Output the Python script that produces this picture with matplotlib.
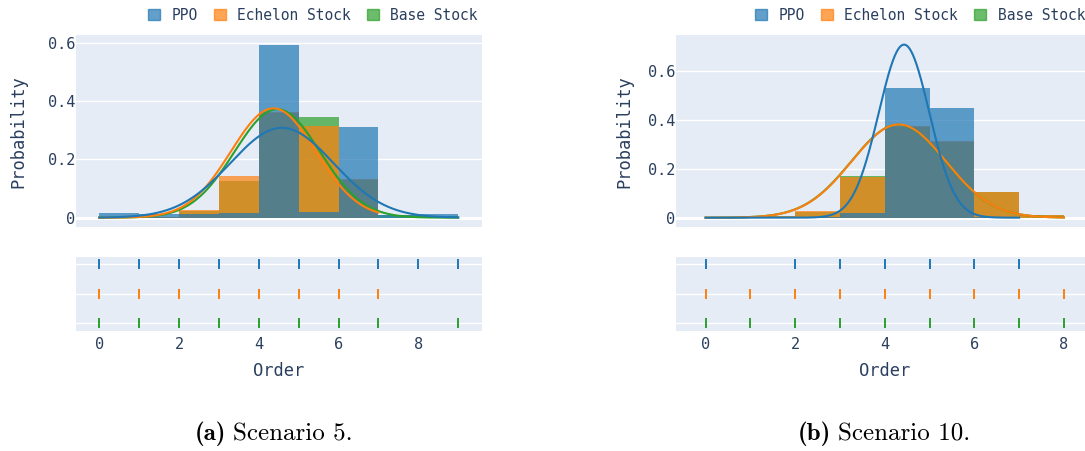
import numpy as np
import matplotlib
matplotlib.use("Agg")
import matplotlib.pyplot as plt
from matplotlib.patches import Patch
from matplotlib.ticker import FuncFormatter
from matplotlib.offsetbox import TextArea, HPacker, AnnotationBbox

plt.rcParams["font.family"] = ["DejaVu Sans Mono"]

series = ["PPO", "Echelon Stock", "Base Stock"]
colors = ["#1f77b4", "#ff7f0e", "#2ca02c"]

# Scenario 5: share of periods with each order quantity
orders_s5 = [0, 1, 2, 3, 4, 5, 6, 7, 8, 9]
ppo_s5 = [0.016, 0.012, 0.012, 0.016, 0.593, 0.020, 0.312, 0.008, 0.003, 0.008]
echelon_s5 = [0.004, 0.004, 0.028, 0.144, 0.362, 0.313, 0.124, 0.010, 0.0, 0.0]
base_s5 = [0.004, 0.002, 0.022, 0.126, 0.360, 0.345, 0.128, 0.010, 0.0, 0.005]

# Scenario 10
orders_s10 = [0, 1, 2, 3, 4, 5, 6, 7, 8]
ppo_s10 = [0.001, 0.0, 0.001, 0.018, 0.530, 0.446, 0.003, 0.001, 0.0]
echelon_s10 = [0.002, 0.006, 0.026, 0.164, 0.375, 0.314, 0.103, 0.006, 0.004]
base_s10 = [0.002, 0.006, 0.024, 0.172, 0.372, 0.310, 0.104, 0.006, 0.004]

caption_tags = ["(a)", "(b)"]
caption_texts = ["Scenario 5.", "Scenario 10."]
x_ticks = [0, 2, 4, 6, 8]

BG = "#E5ECF6"
TXT = "#2a3f5f"
W, H = 1085, 451

fig = plt.figure(figsize=(W / 100, H / 100), dpi=100)


def fx(px):
    return px / W


def fy(py):
    return 1 - py / H


def panel(x0, x1, xlim, orders, dists, ylabel_x, legend_right):
    main = fig.add_axes([fx(x0), fy(227.3), fx(x1 - x0), fy(35) - fy(227.3)])
    rug = fig.add_axes([fx(x0), fy(330.7), fx(x1 - x0), fy(257) - fy(330.7)])
    for ax in (main, rug):
        ax.set_facecolor(BG)
        for s in ax.spines.values():
            s.set_visible(False)
        ax.set_xlim(*xlim)
        ax.set_axisbelow(True)

    orders = np.asarray(orders, dtype=float)
    peak = 0.0
    stats = []
    for name, col, probs in zip(series, colors, dists):
        probs = np.asarray(probs, dtype=float)
        keep = probs > 0
        vals, w = orders[keep], probs[keep]
        edges = np.arange(vals.min(), vals.max() + 1)
        mean = np.average(vals, weights=w)
        sd = np.sqrt(np.average((vals - mean) ** 2, weights=w))
        stats.append((name, col, vals, w, edges, mean, sd))

    # overlaid histograms: base stock at the bottom, PPO on top
    for idx in [2, 1, 0]:
        name, col, vals, w, edges, mean, sd = stats[idx]
        h, _, _ = main.hist(vals, bins=edges, weights=w, color=col, alpha=0.7,
                            linewidth=0, zorder=2)
        peak = max(peak, h.max())
    # fitted normal curves and rug marks
    for idx in [2, 1, 0]:
        name, col, vals, w, edges, mean, sd = stats[idx]
        xs = np.linspace(vals.min(), vals.max(), 500)
        ys = np.exp(-0.5 * ((xs - mean) / sd) ** 2) / (sd * np.sqrt(2 * np.pi))
        main.plot(xs, ys, color=col, lw=1.5, zorder=3)
        peak = max(peak, ys.max())
        rug.plot(vals, np.full(len(vals), idx), linestyle="none", marker="|",
                 markersize=6.5, markeredgewidth=1.4, color=col, zorder=3)

    pad = peak * 0.05 / 0.9
    main.set_ylim(-pad, peak + pad)
    main.set_yticks([0, 0.2, 0.4, 0.6])
    main.yaxis.set_major_formatter(FuncFormatter(lambda v, p: "0" if abs(v) < 1e-9 else f"{v:.1f}"))
    main.grid(axis="y", color="white", lw=1.0)
    main.grid(axis="x", visible=False)
    main.axhline(0, color="white", lw=2.2, zorder=1)
    main.tick_params(axis="y", length=0, pad=0.5, labelsize=11, labelcolor=TXT)
    main.tick_params(axis="x", length=0, labelbottom=False)
    main.set_ylabel("Probability", fontsize=12.3, color=TXT, va="center")
    main.yaxis.set_label_coords((ylabel_x - x0) / (x1 - x0), 0.5)

    rug.set_ylim(2.25, -0.25)
    rug.set_yticks([0, 1, 2])
    rug.tick_params(axis="y", length=0, labelleft=False)
    rug.grid(axis="y", color="white", lw=1.0)
    rug.set_xticks(x_ticks)
    rug.tick_params(axis="x", length=0, pad=4.5, labelsize=11, labelcolor=TXT)
    rug.set_xlabel("Order", fontsize=12.3, color=TXT, labelpad=7.5)

    handles = [Patch(facecolor=c, edgecolor=c, alpha=0.7, label=n) for n, c in zip(series, colors)]
    fig.legend(handles=handles, loc="upper right", ncol=3, frameon=False,
               bbox_to_anchor=(fx(legend_right), fy(7.5)), fontsize=10.5,
               handlelength=0.8, handleheight=0.8, handletextpad=0.8,
               columnspacing=1.1, borderpad=0, borderaxespad=0, labelcolor=TXT)


panel(75.7, 481.7, (-0.59, 9.59), orders_s5, [ppo_s5, echelon_s5, base_s5], 18.3, 478)
panel(676, 1093.5, (-0.66, 8.66), orders_s10, [ppo_s10, echelon_s10, base_s10], 624.5, 1085)


def caption(tag, text, cx, cy):
    box = HPacker(children=[
        TextArea(tag, textprops=dict(family="cmb10", size=18, color="black")),
        TextArea(text, textprops=dict(family="cmr10", size=18, color="black")),
    ], sep=5, align="baseline", pad=0)
    ab = AnnotationBbox(box, (fx(cx), fy(cy)), xycoords="figure fraction",
                        frameon=False, box_alignment=(0.5, 0.5), pad=0)
    fig.add_artist(ab)


caption(caption_tags[0], caption_texts[0], 274, 434)
caption(caption_tags[1], caption_texts[1], 884, 434)

fig.savefig("out.png", dpi=100, facecolor="white")
